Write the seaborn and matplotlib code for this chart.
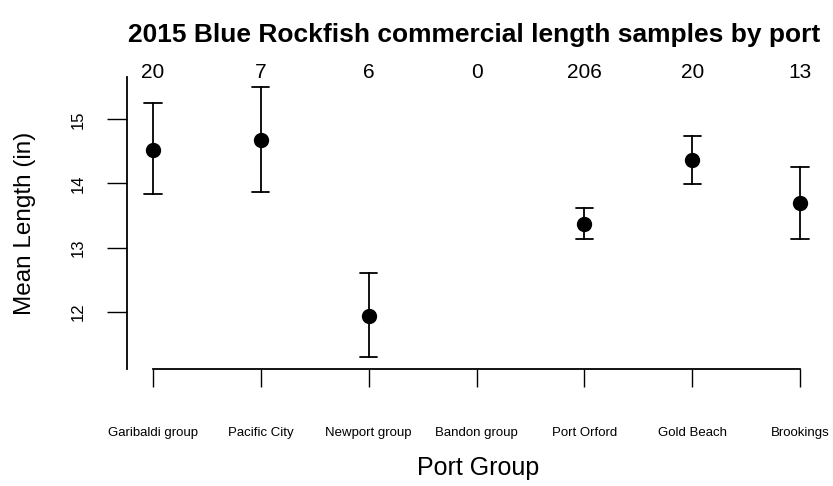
import pandas as pd
import seaborn as sns
import matplotlib
matplotlib.use("Agg")
import matplotlib.pyplot as plt

# values
ports = ["Garibaldi group", "Pacific City", "Newport group", "Bandon group",
         "Port Orford", "Gold Beach", "Brookings"]
n_samples = [20, 7, 6, 0, 206, 20, 13]
mean_len = [14.52, 14.68, 11.93, None, 13.37, 14.37, 13.70]
lower = [13.83, 13.86, 11.29, None, 13.14, 13.99, 13.14]
upper = [15.25, 15.50, 12.60, None, 13.61, 14.74, 14.26]

# long table: low / mean / high per port, median gives the mean, full range gives the bar
rows = []
for p, lo, m, hi in zip(ports, lower, mean_len, upper):
    if m is None:
        continue
    for v in (lo, m, hi):
        rows.append({"port": p, "length": v})
df = pd.DataFrame(rows)

sns.set_style("ticks")
plt.rcParams["font.family"] = ["Liberation Sans", "DejaVu Sans"]
plt.rcParams.update({"text.color": "black", "axes.labelcolor": "black",
                     "xtick.color": "black", "ytick.color": "black"})

W, H = 833, 486
fig = plt.figure(figsize=(W / 100, H / 100), dpi=100)
# axes box in pixels: left 127, right 822, top 77, bottom 369
ax = fig.add_axes([127 / W, (H - 369) / H, (822 - 127) / W, (369 - 77) / H])

sns.pointplot(data=df, x="port", y="length", order=ports, estimator="median",
              errorbar=("pi", 100), capsize=0.16, linestyle="none", color="black",
              marker="o", markersize=9, err_kws={"linewidth": 1.3}, ax=ax)

ax.set_xlim(-0.241, 6.203)
ax.set_ylim(11.107, 15.66)
ax.set_yticks([12, 13, 14, 15])
ax.set_xticks(range(len(ports)))
ax.set_xticklabels(ports, fontsize=9.5)

sns.despine(ax=ax)
for s in ("left", "bottom"):
    ax.spines[s].set_linewidth(1.3)
    ax.spines[s].set_color("black")
ax.spines["bottom"].set_bounds(0, 6)
ax.tick_params(axis="y", length=14.4, width=1.0, pad=15, labelsize=12)
ax.tick_params(axis="x", length=13, width=1.0, pad=29)
for lab in ax.get_yticklabels():
    lab.set_rotation(90)
    lab.set_va("center")

ax.set_xlabel("Port Group", fontsize=18)
ax.xaxis.label.set_va("center")
ax.xaxis.set_label_coords(0.505, -0.339)
ax.set_ylabel("Mean Length (in)", fontsize=17.5)
ax.yaxis.label.set_va("center")
ax.yaxis.set_label_coords(-0.147, 0.5)

for i, n in enumerate(n_samples):
    ax.text(i, 1.017, str(n), transform=ax.get_xaxis_transform(),
            ha="center", va="center", fontsize=15)

fig.text(474 / W, 1 - 35 / H, "2015 Blue Rockfish commercial length samples by port",
         ha="center", va="center", fontsize=19, fontweight="bold")

fig.savefig("out.png", dpi=100)
